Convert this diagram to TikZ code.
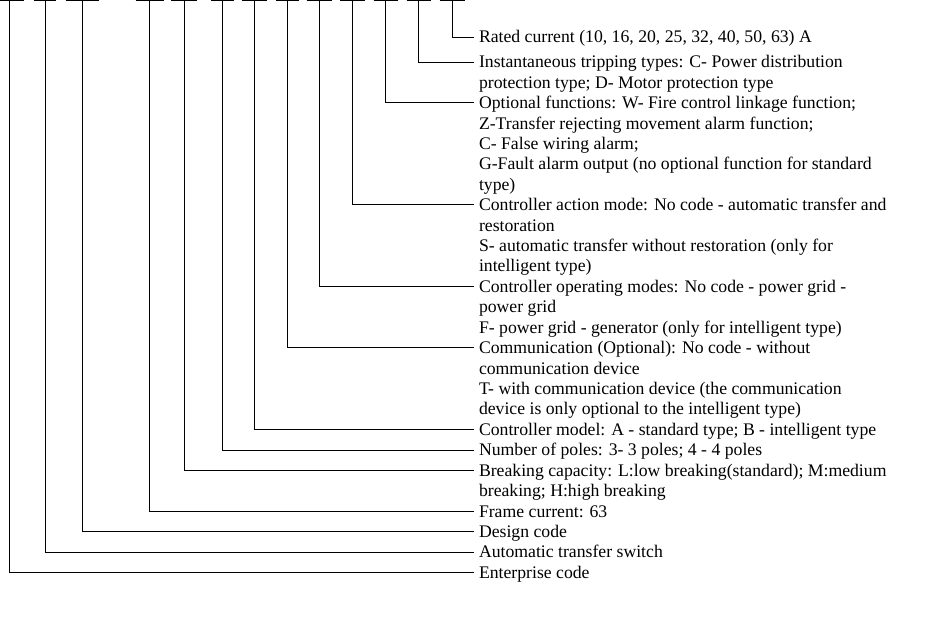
\documentclass[tikz,border=0pt]{standalone}
\usepackage{fontspec}
\setmainfont{Liberation Serif}
\usetikzlibrary{positioning}
\tikzset{x = 1pt, y = -1pt,
         legend/.style = {anchor = base west, inner sep = 0pt, outer sep = 0pt,
                          font = \fontsize{17.7}{20.4}\selectfont},
         leader/.style = {draw, line width = 0.9pt},
         slotbar/.style = {line width = 1pt}}
\newcommand{\rowpitch}{20.42pt}

\begin{document}
\begin{tikzpicture}
    \useasboundingbox (0,0) rectangle (931,628);

    % code slots along the top edge
    \foreach \n/\x/\w in {1/9.5/14.5, 2/45/11, 3/82.5/16.5, 4/149.5/14, 5/184/13,
                          6/222.5/11.5, 7/254.5/12.5, 8/287/11.5, 9/319/12.5,
                          10/352.5/12.5, 11/385.5/12, 12/418.5/12, 13/452/12.5} {
        \coordinate (s\n) at (\x,0.6);
        \draw[slotbar] (\x-\w,0.6) -- (\x+\w,0.6);
    }

    % descriptions
    \node[legend] (rated)    at (479,42.8) {Rated current (10, 16, 20, 25, 32, 40, 50, 63) A};
    \node[legend] (tripping) at (479,67.8) {Instantaneous tripping types: C- Power distribution};
    \node[below = \rowpitch of tripping.base west, legend]  (tripping2) {protection type; D- Motor protection type};
    \node[below = \rowpitch of tripping2.base west, legend] (options)   {Optional functions: W- Fire control linkage function;};
    \node[below = \rowpitch of options.base west, legend]   (options2)  {Z-Transfer rejecting movement alarm function;};
    \node[below = \rowpitch of options2.base west, legend]  (options3)  {C- False wiring alarm;};
    \node[below = \rowpitch of options3.base west, legend]  (options4)  {G-Fault alarm output (no optional function for standard};
    \node[below = \rowpitch of options4.base west, legend]  (options5)  {type)};
    \node[below = \rowpitch of options5.base west, legend]  (action)    {Controller action mode: No code - automatic transfer and};
    \node[below = \rowpitch of action.base west, legend]    (action2)   {restoration};
    \node[below = \rowpitch of action2.base west, legend]   (action3)   {S- automatic transfer without restoration (only for};
    \node[below = \rowpitch of action3.base west, legend]   (action4)   {intelligent type)};
    \node[below = \rowpitch of action4.base west, legend]   (opmode)    {Controller operating modes: No code - power grid -};
    \node[below = \rowpitch of opmode.base west, legend]    (opmode2)   {power grid};
    \node[below = \rowpitch of opmode2.base west, legend]   (opmode3)   {F- power grid - generator (only for intelligent type)};
    \node[below = \rowpitch of opmode3.base west, legend]   (comm)      {Communication (Optional): No code - without};
    \node[below = \rowpitch of comm.base west, legend]      (comm2)     {communication device};
    \node[below = \rowpitch of comm2.base west, legend]     (comm3)     {T- with communication device (the communication};
    \node[below = \rowpitch of comm3.base west, legend]     (comm4)     {device is only optional to the intelligent type)};
    \node[below = \rowpitch of comm4.base west, legend]     (model)     {Controller model: A - standard type; B - intelligent type};
    \node[below = \rowpitch of model.base west, legend]     (poles)     {Number of poles: 3- 3 poles; 4 - 4 poles};
    \node[below = \rowpitch of poles.base west, legend]     (breaking)  {Breaking capacity: L:low breaking(standard); M:medium};
    \node[below = \rowpitch of breaking.base west, legend]  (breaking2) {breaking; H:high breaking};
    \node[below = \rowpitch of breaking2.base west, legend] (frame)     {Frame current: 63};
    \node[below = \rowpitch of frame.base west, legend]     (design)    {Design code};
    \node[below = \rowpitch of design.base west, legend]    (ats)       {Automatic transfer switch};
    \node[below = \rowpitch of ats.base west, legend]       (enterprise){Enterprise code};

    % leaders from the slots to their descriptions
    \path[leader] (s13) |- ([shift={(-5,-5.8)}]rated.base west);
    \path[leader] (s12) |- ([shift={(-5,-5.8)}]tripping.base west);
    \path[leader] (s11) |- ([shift={(-5,-5.8)}]options.base west);
    \path[leader] (s10) |- ([shift={(-5,-5.8)}]action.base west);
    \path[leader] (s9)  |- ([shift={(-5,-5.8)}]opmode.base west);
    \path[leader] (s8)  |- ([shift={(-5,-5.8)}]comm.base west);
    \path[leader] (s7)  |- ([shift={(-5,-5.8)}]model.base west);
    \path[leader] (s6)  |- ([shift={(-5,-5.8)}]poles.base west);
    \path[leader] (s5)  |- ([shift={(-5,-5.8)}]breaking.base west);
    \path[leader] (s4)  |- ([shift={(-5,-5.8)}]frame.base west);
    \path[leader] (s3)  |- ([shift={(-5,-5.8)}]design.base west);
    \path[leader] (s2)  |- ([shift={(-5,-5.8)}]ats.base west);
    \path[leader] (s1)  |- ([shift={(-5,-5.8)}]enterprise.base west);
\end{tikzpicture}
\end{document}
